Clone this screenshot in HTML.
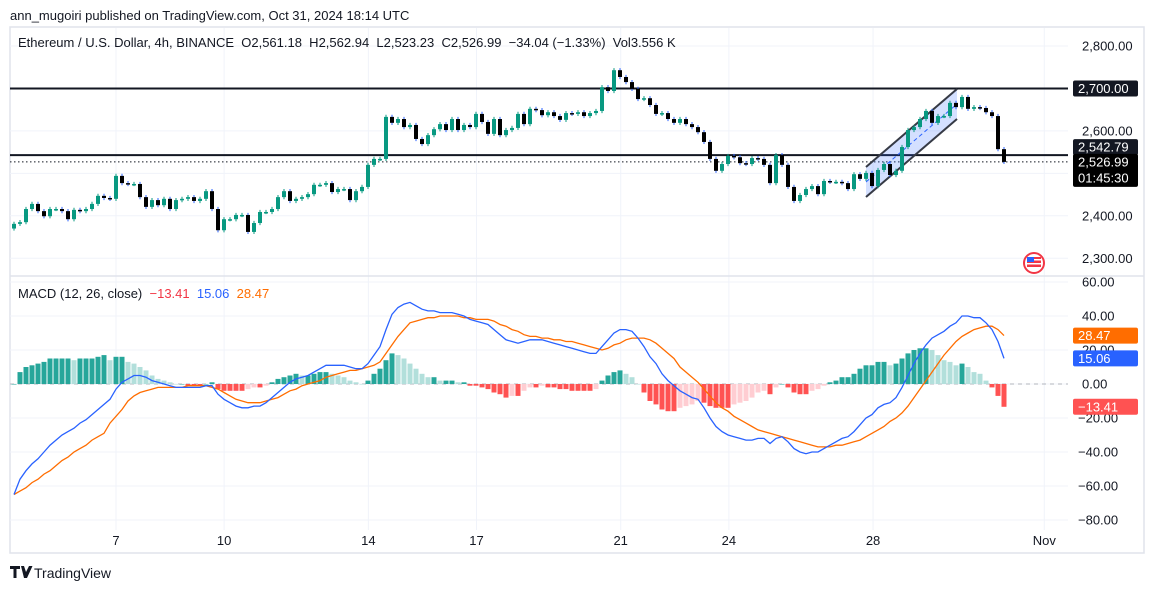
<!DOCTYPE html>
<html><head><meta charset="utf-8">
<style>
body{margin:0;background:#fff;width:1154px;height:588px;overflow:hidden;font-family:"Liberation Sans",sans-serif;}
svg text{font-family:"Liberation Sans",sans-serif;}
</style></head>
<body>
<svg id="chart" width="1154" height="588" viewBox="0 0 1154 588" xmlns="http://www.w3.org/2000/svg">
<text x="10" y="20" font-size="13" fill="#131722">ann_mugoiri published on TradingView.com, Oct 31, 2024 18:14 UTC</text>
<rect x="10" y="27" width="1134" height="526" fill="none" stroke="#e0e3eb" stroke-width="1.5"/>
<g id="grid"></g>
<g id="main"></g>
<g id="macd"></g>
<g id="axes"></g>
<text x="18" y="47" font-size="13" fill="#131722">Ethereum / U.S. Dollar, 4h, BINANCE&#160;&#160;O2,561.18&#160;&#160;H2,562.94&#160;&#160;L2,523.23&#160;&#160;C2,526.99&#160;&#160;−34.04 (−1.33%)&#160;&#160;Vol3.556 K</text>
<text x="18" y="298" font-size="13" fill="#131722">MACD (12, 26, close)&#160;&#160;<tspan fill="#f23645">−13.41</tspan>&#160;&#160;<tspan fill="#2962ff">15.06</tspan>&#160;&#160;<tspan fill="#ff6d00">28.47</tspan></text>
<g>
<path d="M10 566h10v3h-3.5v9h-3v-9h-3.5z M21 566h3l2 6 3-6h3.5l-5.5 12h-3z" fill="#131722"/>
<text x="34" y="578" font-size="14" fill="#131722">TradingView</text>
</g>
<g>
<circle cx="1034" cy="263" r="10" fill="#fff" stroke="#f23645" stroke-width="2"/>
<rect x="1027" y="257" width="14" height="10" fill="#f23645"/><rect x="1027" y="259" width="14" height="1.5" fill="#fff"/><rect x="1027" y="263" width="14" height="1.5" fill="#fff"/>
<rect x="1027" y="257" width="7" height="5" fill="#2962ff"/>
</g>
</svg>
<script>
const closes=[2381,2385,2416,2428,2411,2399,2416,2416,2411,2392,2414,2411,2416,2428,2447,2442,2440,2494,2477,2475,2475,2444,2421,2437,2425,2440,2416,2437,2440,2444,2435,2440,2458,2416,2366,2392,2392,2402,2402,2362,2383,2409,2409,2416,2444,2458,2435,2440,2444,2451,2473,2473,2477,2456,2463,2463,2437,2458,2468,2520,2534,2534,2633,2619,2628,
2609,2614,2581,2569,2590,2604,2616,2602,2628,2602,2614,2609,2640,2621,2593,2628,2590,2602,2607,2640,2616,2652,2649,2637,2644,2635,2626,2642,2640,2644,2635,2642,2647,2703,2694,2743,2727,2715,2699,2675,2677,2661,2640,2642,2628,2619,2628,2616,2609,2597,2574,2534,2506,2522,2541,2538,2524,2522,2536,2534,2520,2477,2543,2520,2468,2435,2449,2463,2470,2451,2482,2480,2480,2477,2463,2498,2487,2501,2470,2508,2522,2496,2506,2562,2602,2609,2628,2647,2619,2635,2635,2666,2656,2680,2652,2656,2654,2644,2635,2557,2527];
const firstOpen=2370;
const macdLine=[-65,-56,-51,-47,-44,-40,-36,-33,-30,-28,-26,-23,-21,-18,-15,-12,-9,-3,1,3,5,5,4,2,1,0,-1,-2,-2,-2,-2,-2,-1,-1,-6,-9,-11,-13,-14,-14,-13,-13,-11,-8,-5,-2,1,3,4,5,7,9,11,11,11,11,10,9,9,12,17,22,32,41,45,47,48,46,44,43,43,42,42,42,41,40,38,37,36,35,32,29,26,25,24,25,26,26,26,25,24,23,22,21,20,19,18,18,22,26,30,32,32,31,27,22,16,12,6,2,-1,-4,-6,-8,-9,-14,-20,-25,-28,-30,-31,-32,-33,-33,-32,-32,-35,-32,-31,-34,-38,-40,-41,-40,-40,-38,-36,-34,-32,-31,-28,-24,-20,-18,-14,-12,-11,-8,-2,5,12,18,23,27,29,31,34,36,40,40,39,39,36,32,25,15.06];
const signalLine=[-65,-63,-61,-58,-56,-53,-51,-48,-45,-43,-40,-38,-36,-33,-31,-29,-23,-19,-15,-10,-7,-5,-4,-3,-2,-2,-2,-2,-2,-1,-1,-1,-1,-2,-3,-5,-7,-9,-10,-11,-11,-11,-10,-9,-8,-6,-4,-3,-1,0,1,2,4,5,6,7,8,8,9,10,11,13,18,23,28,32,36,37,38,39,39,40,40,40,40,39,39,38,38,38,37,35,34,32,31,29,28,28,27,27,26,26,25,25,24,23,22,21,20,21,23,24,26,27,27,27,26,24,21,18,15,10,7,4,1,-3,-7,-11,-14,-16,-19,-21,-23,-25,-27,-28,-29,-30,-31,-32,-33,-34,-35,-36,-37,-37,-37,-36,-36,-35,-34,-33,-31,-29,-27,-25,-22,-20,-17,-13,-8,-3,2,7,12,17,21,25,28,30,32,33,34,34,32,28.47];
const priceTicks=[2800,2700,2600,2400,2300];
const macdTicks=[60,40,20,0,-20,-40,-60,-80];
const dayLabels=["7","10","14","17","21","24","28","Nov"];
const dayIndex=[3,6,10,13,17,20,24,28.75];
const levels=[2700,2542.79];

const NS="http://www.w3.org/2000/svg";
function el(tag,attrs,parent){const e=document.createElementNS(NS,tag);for(const k in attrs)e.setAttribute(k,attrs[k]);parent.appendChild(e);return e;}
const X0=14,STEP=6;
const xOf=i=>X0+STEP*i;
const yP=p=>46+(2800-p)*0.4245;
const yM=v=>384-v*1.7;
const xDay=d=>116+(d-3)*36.05;
const grid=document.getElementById('grid'),main=document.getElementById('main'),mp=document.getElementById('macd'),axes=document.getElementById('axes');

[2800,2700,2600,2500,2400,2300].forEach(p=>{const l=el('line',{x1:10,x2:1068,y1:yP(p),y2:yP(p),stroke:'#f0f3fa'},grid);

});
macdTicks.forEach(v=>{const l=el('line',{x1:10,x2:1068,y1:yM(v),y2:yM(v),stroke:'#f0f3fa'},grid);

});
dayIndex.forEach(d=>{const l=el('line',{x1:xDay(d),x2:xDay(d),y1:28,y2:530,stroke:'#f0f3fa'},grid);

});
const sep=el('line',{x1:10,x2:1144,y1:276,y2:276,stroke:'#e0e3eb','stroke-width':1.5},grid);



levels.forEach(p=>{const l=el('line',{x1:10,x2:1068,y1:yP(p),y2:yP(p),stroke:'#131722','stroke-width':2},main);

});
const last=closes[closes.length-1];
const dl=el('line',{x1:10,x2:1068,y1:yP(last),y2:yP(last),stroke:'#131722','stroke-width':1,'stroke-dasharray':'1.5 2.5'},main);



const ch=el('g',{},main);


el('polygon',{points:'866,167 957,89 957,119 866,197',fill:'rgba(41,98,255,0.2)'},ch);
el('line',{x1:866,y1:182,x2:957,y2:104,stroke:'#2962ff','stroke-width':1,'stroke-dasharray':'4 3'},ch);
el('line',{x1:866,y1:167,x2:957,y2:89,stroke:'#363a45','stroke-width':2},ch);
el('line',{x1:866,y1:197,x2:957,y2:119,stroke:'#363a45','stroke-width':2},ch);

closes.forEach((c,i)=>{
  const o=i===0?firstOpen:closes[i-1];
  const up=c>=o;const x=xOf(i);
  const hi=Math.max(o,c)+5,lo=Math.min(o,c)-5;
  const g=el('g',{},main);
  
  
  el('line',{x1:x,x2:x,y1:yP(hi),y2:yP(lo),stroke:up?'#089981':'#2962ff','stroke-width':1},g);
  const top=yP(Math.max(o,c)),h=Math.max(1.5,yP(Math.min(o,c))-top);
  el('rect',{x:x-2,y:top,width:4,height:h,fill:up?'#089981':'#000'},g);
});

const z=el('line',{x1:10,x2:1068,y1:yM(0),y2:yM(0),stroke:'#b2b5be','stroke-dasharray':'4 4'},mp);


macdLine.forEach((m,i)=>{
  const h=m-signalLine[i];const prev=i>0?macdLine[i-1]-signalLine[i-1]:h;
  const col=h>=0?(h>=prev?'#26a69a':'#b2dfdb'):(h<=prev?'#ff5252':'#ffcdd2');
  const y1=yM(Math.max(h,0)),y2=yM(Math.min(h,0));
  const r=el('rect',{x:xOf(i)-2.5,y:y1,width:5,height:Math.max(0.5,y2-y1),fill:col},mp);
  
  
});
const sl=el('polyline',{points:signalLine.map((v,i)=>xOf(i)+','+yM(v)).join(' '),fill:'none',stroke:'#ff6d00','stroke-width':1.3},mp);


const ml=el('polyline',{points:macdLine.map((v,i)=>xOf(i)+','+yM(v)).join(' '),fill:'none',stroke:'#2962ff','stroke-width':1.3},mp);



const fmt=v=>(v<0?'−':'')+Math.abs(v).toLocaleString('en-US',{minimumFractionDigits:2,maximumFractionDigits:2});
priceTicks.forEach(p=>{const t=el('text',{x:1082,y:yP(p)+4.5,'font-size':13,fill:'#131722'},axes);t.textContent=fmt(p);

});
macdTicks.forEach(v=>{const t=el('text',{x:v<0?1078:1082,y:yM(v)+4.5,'font-size':13,fill:'#131722'},axes);t.textContent=fmt(v);

});
dayLabels.forEach((s,k)=>{const t=el('text',{x:xDay(dayIndex[k]),y:545,'font-size':13,fill:'#131722','text-anchor':'middle'},axes);t.textContent=s;

});
function badge(y,h,bg,lines,name,x0){
  const g=el('g',{},axes);
  
  
  el('rect',{x:x0||1073,y:y,width:65,height:h,rx:2,fill:bg},g);
  lines.forEach((s,k)=>{const t=el('text',{x:1078,y:y+12.5+k*16,'font-size':13,fill:'#fff'},g);t.textContent=s;});
}
badge(yP(2700)-8,16,'#131722',['2,700.00'],'level-2700-label');
badge(yP(2542.79)-16,16,'#131722',['2,542.79'],'level-2542-label');
badge(yP(last)-8,33,'#000',['2,526.99','01:45:30'],'last-price-label');
badge(yM(28.47)-8,16,'#ff6d00',['28.47'],'signal-value-label');
badge(yM(15.06)-8,16,'#2962ff',['15.06'],'macd-value-label');
badge(yM(-13.41)-8,16,'#ff5252',['−13.41'],'histogram-value-label');
</script>
</body></html>
